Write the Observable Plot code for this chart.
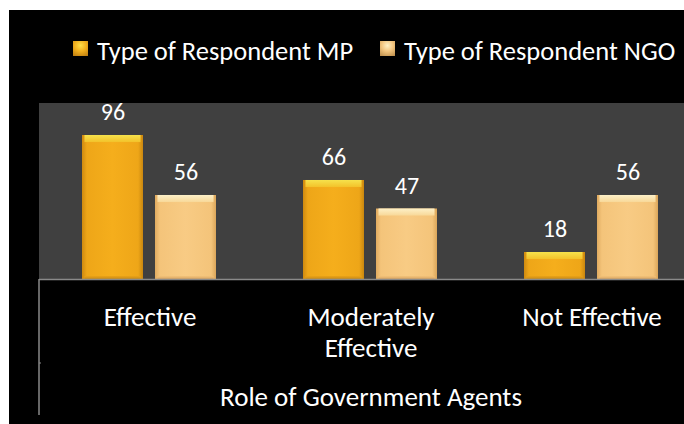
<!DOCTYPE html>
<html>
<head>
<meta charset="utf-8">
<script src="https://cdn.jsdelivr.net/npm/d3@7"></script>
<script src="https://cdn.jsdelivr.net/npm/@observablehq/plot@0.6"></script>
<style>
  html, body { margin: 0; padding: 0; background: #fff; overflow: hidden; }
  #wrap { position: absolute; left: 9px; top: 10px; width: 675px; height: 414px; background: #000; overflow: hidden;
          font-family: Carlito, Lato, "Open Sans", sans-serif; color: #fff; }
  #legend { position: relative; height: 80px; }
  .item { position: absolute; top: 28px; height: 27px; line-height: 27px; display: flex; align-items: flex-start;
          font-size: 26.5px; white-space: nowrap; }
  .sw { width: 15px; height: 15px; margin-top: 3px; }
  .sw.mp { background: radial-gradient(circle at 50% 30%, #ffe04a 0%, #f2b01e 45%, #b8780e 100%); }
  .sw.ngo { background: radial-gradient(circle at 50% 30%, #fff0c4 0%, #f3c57e 45%, #b98a48 100%); }
  #chart svg { display: block; overflow: visible; max-width: none !important; }
</style>
</head>
<body>
<div id="wrap">
  <div id="legend"></div>
  <div id="chart"></div>
</div>
<script>
const categories = ["Effective", "Moderately Effective", "Not Effective"];
const categoryLabels = ["Effective", "Moderately\nEffective", "Not Effective"];
const seriesKeys = ["MP", "NGO"];
const seriesNames = ["Type of Respondent MP", "Type of Respondent NGO"];
const mpValues = [96, 66, 18];
const ngoValues = [56, 47, 56];
const axisTitle = "Role of Government Agents";

const data = categories.flatMap((c, i) => [
  {cat: c, s: "MP", v: mpValues[i]},
  {cat: c, s: "NGO", v: ngoValues[i]}
]);

// legend
const legend = d3.select("#legend");
const legendLeft = [64, 371];
seriesNames.forEach((name, i) => {
  const it = legend.append("div").attr("class", "item").style("left", legendLeft[i] + "px");
  it.append("div").attr("class", "sw " + seriesKeys[i].toLowerCase());
  it.append("span").style("margin-left", "9px").text(name);
});

function defs() {
  const d = d3.create("svg:defs");
  const mk = (id, stops, vertical) => {
    const g = d.append("linearGradient").attr("id", id)
      .attr("x1", 0).attr("y1", 0).attr("x2", vertical ? 0 : 1).attr("y2", vertical ? 1 : 0);
    stops.forEach(([o, c]) => g.append("stop").attr("offset", o).attr("stop-color", c));
  };
  mk("gMP", [[0, "#cf8a10"], [0.08, "#eea618"], [0.5, "#f5ae1c"], [0.92, "#eea618"], [1, "#c9870f"]], false);
  mk("gMPtop", [[0, "#f6e24c"], [1, "#f3c22a"]], true);
  mk("gMPbot", [[0, "#eaa318"], [1, "#c98a14"]], true);
  mk("gNGO", [[0, "#e0ab60"], [0.08, "#f4c47a"], [0.5, "#f8cb84"], [0.92, "#f4c47a"], [1, "#dba65a"]], false);
  mk("gNGOtop", [[0, "#fdf0c8"], [1, "#f8d898"]], true);
  mk("gNGObot", [[0, "#f3c27a"], [1, "#d9a560"]], true);
  return d.node();
}

const capHeight = 4.7;
const baseHeight = 2;
const mpData = data.filter(d => d.s === "MP");
const ngoData = data.filter(d => d.s === "NGO");

const chart = Plot.plot({
  width: 693,
  height: 334,
  marginLeft: 30,
  marginRight: 0,
  marginTop: 13,
  marginBottom: 145,
  style: {background: "transparent", color: "white", fontFamily: "Carlito, Lato, 'Open Sans', sans-serif", fontSize: "27px", maxWidth: "none"},
  fx: {domain: categories, padding: 0, axis: null},
  x: {domain: seriesKeys, paddingInner: 0.162, paddingOuter: 0.578, axis: null},
  y: {domain: [0, 117.33], axis: null},
  marks: [
    defs,
    Plot.frame({fill: "#404040", stroke: "#404040"}),
    Plot.barY(mpData, {fx: "cat", x: "s", y: "v", fill: "url(#gMP)"}),
    Plot.barY(ngoData, {fx: "cat", x: "s", y: "v", fill: "url(#gNGO)"}),
    Plot.rectY(mpData, {fx: "cat", x: "s", y1: d => d.v - capHeight, y2: "v", fill: "url(#gMPtop)", insetLeft: 2.5, insetRight: 2.5}),
    Plot.rectY(ngoData, {fx: "cat", x: "s", y1: d => d.v - capHeight, y2: "v", fill: "url(#gNGOtop)", insetLeft: 2.5, insetRight: 2.5}),
    Plot.rectY(mpData, {fx: "cat", x: "s", y1: 0, y2: baseHeight, fill: "url(#gMPbot)", insetLeft: 2.5, insetRight: 2.5}),
    Plot.rectY(ngoData, {fx: "cat", x: "s", y1: 0, y2: baseHeight, fill: "url(#gNGObot)", insetLeft: 2.5, insetRight: 2.5}),
    Plot.ruleY([0], {stroke: "#8a8a8a", strokeWidth: 1.5}),
    Plot.text(data, {fx: "cat", x: "s", y: "v", text: d => String(d.v), lineAnchor: "bottom", dy: -15, fill: "white", fontSize: 24}),
    Plot.text(categories, {fx: d => d, text: (d, i) => categoryLabels[i], frameAnchor: "bottom", lineAnchor: "top", dy: 24, lineHeight: 1.15, fill: "white", fontSize: 27}),
    Plot.text([axisTitle], {fx: () => categories[1], frameAnchor: "bottom", lineAnchor: "top", dy: 107, fill: "white", fontSize: 27})
  ]
});
document.getElementById("chart").appendChild(chart);

// left divider of the category axis, placed from the library's scales
const fxs = chart.scale("fx");
const ys = chart.scale("y");
const x0 = fxs.range[0];
const yb = ys.apply(0);
const svg = d3.select(chart);
svg.append("line").attr("x1", x0).attr("x2", x0).attr("y1", yb).attr("y2", yb + 136)
  .attr("stroke", "#8a8a8a").attr("stroke-width", 1.5);
svg.append("line").attr("x1", x0).attr("x2", x0 + 2).attr("y1", yb + 84).attr("y2", yb + 84)
  .attr("stroke", "#8a8a8a").attr("stroke-width", 1);
</script>
</body>
</html>
